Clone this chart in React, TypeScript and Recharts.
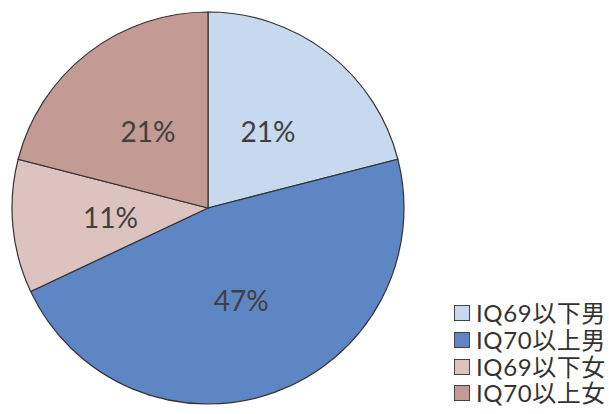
import React from "react";
import { PieChart, Pie, Cell, Legend } from "recharts";

const categories = ["IQ69以下男", "IQ70以上男", "IQ69以下女", "IQ70以上女"];
const shares = [21, 47, 11, 21];
const colors = ["#c7d9ee", "#5f86c4", "#dcc3c0", "#c49a94"];

const data = categories.map((name, i) => ({ name, value: shares[i] }));

const RAD = Math.PI / 180;

const renderLabel = (props: any) => {
  const { cx, cy, midAngle, outerRadius, value } = props;
  const r = outerRadius * 0.5;
  const x = cx + r * Math.cos(-midAngle * RAD);
  const y = cy + r * Math.sin(-midAngle * RAD);
  return (
    <text
      x={x}
      y={y}
      fill="#404040"
      fontSize={28}
      fontFamily="Lato, 'Open Sans', sans-serif"
      textAnchor="middle"
      dominantBaseline="central"
    >
      {`${value}%`}
    </text>
  );
};

const LegendContent = () => (
  <div style={{ fontFamily: "Lato, 'Noto Sans CJK JP', sans-serif" }}>
    {categories.map((c, i) => (
      <div
        key={c}
        style={{ display: "flex", alignItems: "center", height: 26.7, whiteSpace: "nowrap" }}
      >
        <span
          style={{
            display: "inline-block",
            width: 14,
            height: 14,
            background: colors[i],
            border: "1px solid #444",
            marginRight: 6,
            flex: "none",
          }}
        />
        <span
          style={{
            fontSize: 24,
            letterSpacing: 0.6,
            color: "#333",
            lineHeight: "24px",
            height: 24,
          }}
        >
          {c}
        </span>
      </div>
    ))}
  </div>
);

export default function App() {
  return (
    <div style={{ position: "absolute", left: 0, top: 0, background: "#fff" }}>
      <PieChart width={609} height={414} margin={{ top: 0, right: 0, bottom: 0, left: 0 }}>
        <Pie
          data={data}
          dataKey="value"
          nameKey="name"
          cx={208}
          cy={208}
          outerRadius={196}
          startAngle={90}
          endAngle={-270}
          stroke="#333"
          strokeWidth={1.2}
          label={renderLabel}
          labelLine={false}
          isAnimationActive={false}
        >
          {data.map((d, i) => (
            <Cell key={d.name} fill={colors[i]} />
          ))}
        </Pie>
        <Legend
          content={<LegendContent />}
          wrapperStyle={{ position: "absolute", left: 454, top: 300, width: 160 }}
        />
      </PieChart>
    </div>
  );
}
